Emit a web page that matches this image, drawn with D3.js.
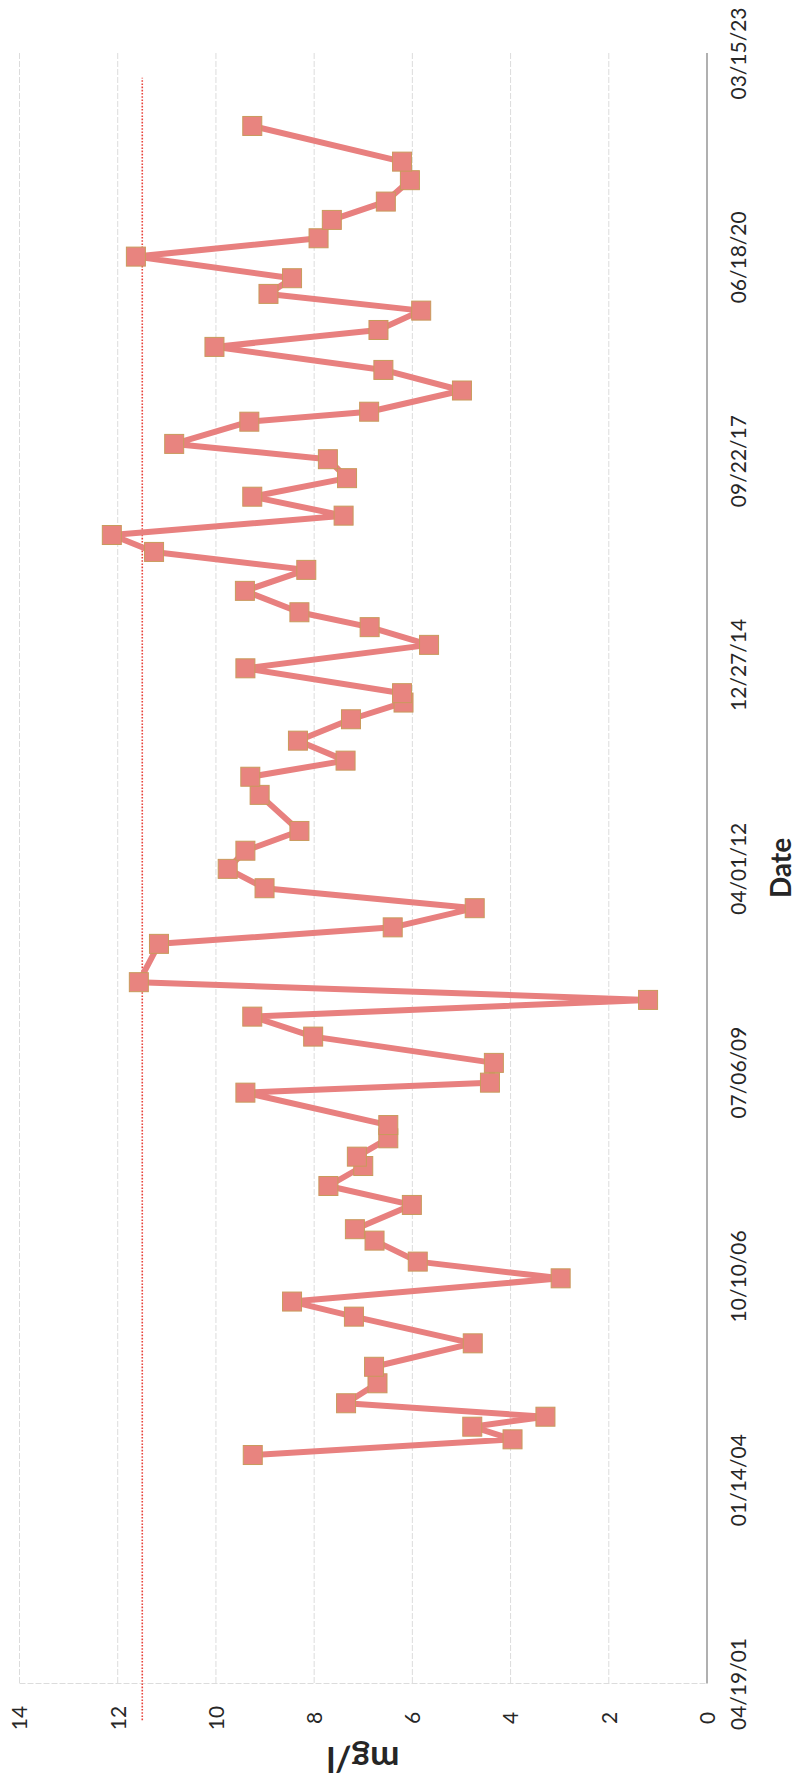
<!DOCTYPE html>
<html>
<head>
<meta charset="utf-8">
<script src="https://cdn.jsdelivr.net/npm/d3@7"></script>
<style>
  html, body { margin: 0; padding: 0; background: #fff; }
  svg { display: block; }
  text { font-family: Lato, "Open Sans", sans-serif; fill: #262626; }
</style>
</head>
<body>
<svg id="chart" width="801" height="1786"></svg>
<script>
// Sampling dates and measured concentrations (mg/l)
const sampleDates = [
  "2004-05-14","2004-07-30","2004-09-30","2004-11-18","2005-01-23","2005-05-01",
  "2005-07-21","2005-11-13","2006-03-24","2006-06-06","2006-09-28","2006-12-19",
  "2007-04-01","2007-05-27","2007-09-23","2007-12-25","2008-04-01","2008-05-17",
  "2008-08-15","2008-10-19","2009-03-27","2009-05-15","2009-08-20","2009-12-27",
  "2010-04-04","2010-06-25","2010-09-20","2011-03-27","2011-06-16","2011-09-18",
  "2011-12-25","2012-03-29","2012-06-26","2012-10-01","2013-03-27","2013-06-24",
  "2013-09-11","2013-12-18","2014-04-02","2014-06-23","2014-08-08","2014-12-08",
  "2015-04-02","2015-06-28","2015-09-09","2015-12-23","2016-04-04","2016-07-01",
  "2016-09-22","2016-12-26","2017-03-29","2017-06-28","2017-09-29","2017-12-13",
  "2018-04-01","2018-05-20","2018-09-01","2018-12-11","2019-04-03","2019-06-25",
  "2019-09-28","2019-12-19","2020-03-05","2020-06-19","2020-09-17","2020-12-16",
  "2021-03-16","2021-06-29","2021-09-28","2022-03-22"
];
const concentrations = [
  9.25, 3.96, 4.78, 3.29, 7.35, 6.71,
  6.78, 4.77, 7.19, 8.45, 2.98, 5.89,
  6.77, 7.17, 6.01, 7.71, 7.00, 7.13,
  6.49, 6.49, 9.40, 4.42, 4.34, 8.02,
  9.26, 1.20, 11.57, 11.16, 6.40, 4.73,
  9.01, 9.76, 9.40, 8.30, 9.11, 9.30,
  7.36, 8.33, 7.25, 6.18, 6.21, 9.40,
  5.66, 6.87, 8.30, 9.41, 8.16, 11.26,
  12.12, 7.40, 9.26, 7.33, 7.72, 10.85,
  9.32, 6.88, 4.99, 6.59, 10.03, 6.69,
  5.82, 8.93, 8.45, 11.63, 7.91, 7.64,
  6.54, 6.05, 6.21, 9.26
];

// Limit line
const limitValue = 11.5;
const limitDates = ["2000-10-21", "2022-11-13"];

// Axis ticks
const dateTickLabels = ["04/19/01","01/14/04","10/10/06","07/06/09","04/01/12",
                        "12/27/14","09/22/17","06/18/20","03/15/23"];
const valueTicks = [0, 2, 4, 6, 8, 10, 12, 14];

const parseIso = d3.utcParse("%Y-%m-%d");
const parseTick = d3.utcParse("%m/%d/%y");
const fmtTick = d3.utcFormat("%m/%d/%y");

const points = sampleDates.map((d, i) => ({ date: parseIso(d), v: concentrations[i] }));
const dateTicks = dateTickLabels.map(parseTick);

const svg = d3.select("#chart");

// Value runs right-to-left, time runs bottom-to-top
const x = d3.scaleLinear().domain([0, 14]).range([707, 19.5]);
const y = d3.scaleUtc()
  .domain([dateTicks[0], dateTicks[dateTicks.length - 1]])
  .range([1683.5, 53]);

const [yBottom, yTop] = y.range();

// Gridlines
svg.append("g")
  .selectAll("line")
  .data(valueTicks.filter(v => v > 0))
  .join("line")
  .attr("x1", d => x(d)).attr("x2", d => x(d))
  .attr("y1", yTop).attr("y2", yBottom)
  .attr("stroke", "#dcdcdc")
  .attr("stroke-width", 1)
  .attr("stroke-dasharray", "6,2");

svg.append("line")
  .attr("x1", x(14)).attr("x2", x(0))
  .attr("y1", yBottom).attr("y2", yBottom)
  .attr("stroke", "#dcdcdc")
  .attr("stroke-width", 1)
  .attr("stroke-dasharray", "6,2");

// Date axis line at zero
svg.append("line")
  .attr("x1", x(0)).attr("x2", x(0))
  .attr("y1", yTop).attr("y2", yBottom)
  .attr("stroke", "#8f8f8f")
  .attr("stroke-width", 1.4);

// Limit line
const limitPts = limitDates.map(d => ({ date: parseIso(d), v: limitValue }));
svg.append("path")
  .datum(limitPts)
  .attr("d", d3.line().x(d => x(d.v)).y(d => y(d.date)))
  .attr("fill", "none")
  .attr("stroke", "#e8443c")
  .attr("stroke-width", 1.6)
  .attr("stroke-dasharray", "1.6,1.6");

// Series line
svg.append("path")
  .datum(points)
  .attr("d", d3.line().x(d => x(d.v)).y(d => y(d.date)))
  .attr("fill", "none")
  .attr("stroke", "#e8807f")
  .attr("stroke-width", 6)
  .attr("stroke-linejoin", "round");

// Square markers
const m = 19;
svg.append("g")
  .selectAll("rect")
  .data(points)
  .join("rect")
  .attr("x", d => x(d.v) - m / 2)
  .attr("y", d => y(d.date) - m / 2)
  .attr("width", m).attr("height", m)
  .attr("fill", "#e8847f")
  .attr("stroke", "#c99a5c")
  .attr("stroke-width", 1);

// Value axis labels
const valueAxis = svg.append("g")
  .attr("transform", "translate(0,1718)")
  .call(d3.axisBottom(x).tickValues(valueTicks).tickSize(0).tickFormat(d3.format("d")));
valueAxis.select(".domain").remove();
valueAxis.selectAll("text")
  .attr("y", 0).attr("dy", "0.35em")
  .attr("transform", "rotate(-90)")
  .attr("text-anchor", "middle")
  .style("font-size", "21px")
  .style("font-family", "Lato, sans-serif")
  .attr("fill", "#262626");

// Date axis labels
const dateAxis = svg.append("g")
  .attr("transform", "translate(739,0)")
  .call(d3.axisRight(y).tickValues(dateTicks).tickSize(0).tickFormat(fmtTick));
dateAxis.select(".domain").remove();
dateAxis.selectAll("text")
  .attr("x", 0).attr("dy", "0.35em")
  .attr("transform", "rotate(-90)")
  .attr("text-anchor", "middle")
  .style("font-size", "21px")
  .style("font-family", "Lato, sans-serif")
  .attr("fill", "#262626");

// Axis titles
svg.append("text")
  .attr("transform", "translate(781,868) rotate(-90)")
  .attr("dy", "0.35em")
  .attr("text-anchor", "middle")
  .style("font-size", "28px")
  .style("font-weight", "bold")
  .text("Date");

svg.append("text")
  .attr("transform", "translate(363,1747) rotate(180)")
  .attr("text-anchor", "middle")
  .style("font-size", "35px")
  .style("font-weight", "bold")
  .text("mg/l");
</script>
</body>
</html>
